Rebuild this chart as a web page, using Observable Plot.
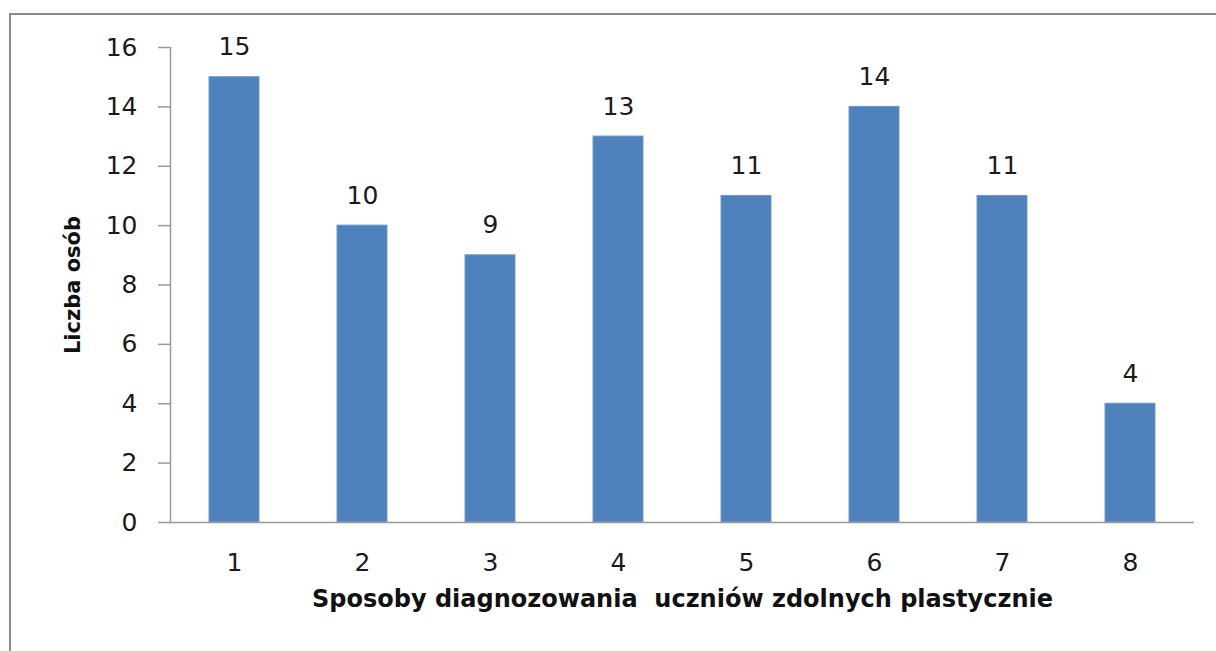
<!DOCTYPE html>
<html>
<head>
<meta charset="utf-8">
<script src="https://cdn.jsdelivr.net/npm/d3@7"></script>
<script src="https://cdn.jsdelivr.net/npm/@observablehq/plot@0.6"></script>
<style>
  html, body { margin: 0; padding: 0; background: #fff; }
  #wrap { position: relative; width: 1216px; height: 651px; overflow: hidden; }
  #border { position: absolute; left: 9px; top: 13px; right: -5px; bottom: -5px;
            border-top: 2px solid #8c8c8c; border-left: 2px solid #8c8c8c; pointer-events: none; }
  #wrap svg { position: absolute; left: 0; top: 0; }
</style>
</head>
<body>
<div id="wrap"><div id="border"></div></div>
<script>
const categories = ["1", "2", "3", "4", "5", "6", "7", "8"];
const values = [15, 10, 9, 13, 11, 14, 11, 4];
const yTicks = [0, 2, 4, 6, 8, 10, 12, 14, 16];
const xTitle = "Sposoby diagnozowania  uczniów zdolnych plastycznie";
const yTitle = "Liczba osób";

const data = categories.map((c, i) => ({category: c, value: values[i]}));

const chart = Plot.plot({
  width: 1216,
  height: 651,
  marginLeft: 170,
  marginRight: 22,
  marginTop: 47,
  marginBottom: 129,
  style: {fontFamily: "DejaVu Sans", background: "transparent", color: "#1a1a1a"},
  x: {domain: categories, paddingInner: 0.61, paddingOuter: 0.305, label: null},
  y: {domain: [0, 16], label: null},
  marks: [
    Plot.frame({anchor: "left", stroke: "#9a9a9a", strokeWidth: 1.5}),
    Plot.axisY({ticks: yTicks, tickSize: 12, tickPadding: 21, fontSize: 25, stroke: "#9a9a9a", strokeWidth: 1.5, label: null, fill: "#1a1a1a"}),
    Plot.axisX({tickSize: 0, tickPadding: 31, fontSize: 25, label: null, fill: "#1a1a1a"}),
    Plot.barY(data, {x: "category", y: "value", fill: "#4f81bd", stroke: "#6f97c9", strokeWidth: 1}),
    Plot.ruleY([0], {stroke: "#9a9a9a", strokeWidth: 1.5}),
    Plot.text(data, {x: "category", y: "value", text: d => String(d.value), dy: -30, fontSize: 25, fill: "#1a1a1a"}),
    Plot.text([xTitle], {frameAnchor: "bottom", dy: 84, fontSize: 24, fontWeight: "bold", fontFamily: "DejaVu Sans", fill: "#111"}),
    Plot.text([yTitle], {frameAnchor: "left", textAnchor: "middle", lineAnchor: "middle", dx: -97, rotate: -90, fontSize: 21, fontWeight: "bold", fontFamily: "DejaVu Sans", fill: "#111"})
  ]
});
document.getElementById("wrap").appendChild(chart);
</script>
</body>
</html>
